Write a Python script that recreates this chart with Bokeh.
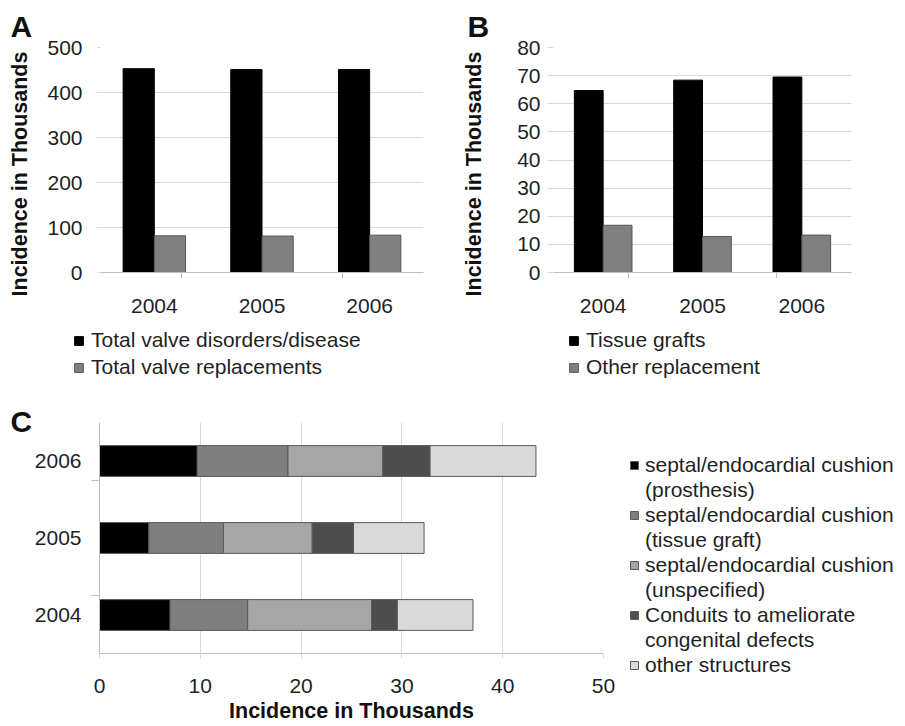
import math
from bokeh.plotting import figure
from bokeh.models import (Range1d, FactorRange, CategoricalAxis, FixedTicker,
                          Legend, LegendItem, Label, ColumnDataSource)
from bokeh.layouts import column, row
from bokeh.transform import dodge
from bokeh.embed import file_html
from bokeh.resources import INLINE

# ---------------- data ----------------
years = ["2004", "2005", "2006"]

a_disorders = [453, 451, 451]
a_replacements = [81.5, 81, 83]
a_legend = ["Total valve disorders/disease", "Total valve replacements"]
a_ticks = [0, 100, 200, 300, 400, 500]

b_tissue = [64.7, 68.4, 69.5]
b_other = [16.8, 12.8, 13.3]
b_legend = ["Tissue grafts", "Other replacement"]
b_ticks = [0, 10, 20, 30, 40, 50, 60, 70, 80]

c_prosthesis = [7.0, 4.9, 9.7]
c_tissue = [7.7, 7.4, 9.0]
c_unspecified = [12.3, 8.8, 9.4]
c_conduits = [2.55, 4.1, 4.7]
c_other = [7.5, 7.0, 10.5]
c_legend = [["septal/endocardial cushion", "(prosthesis)"],
            ["septal/endocardial cushion", "(tissue graft)"],
            ["septal/endocardial cushion", "(unspecified)"],
            ["Conduits to ameliorate", "congenital defects"],
            ["other structures"]]
c_ticks = [0, 10, 20, 30, 40, 50]
c_colors = ["#000000", "#7f7f7f", "#a6a6a6", "#4d4d4d", "#d9d9d9"]
ab_colors = ["#000000", "#808080"]
ab_lines = ["#000000", "#555555"]
y_title = "Incidence in Thousands"

# category boundaries (for boundary tick marks)
bounds = ["b0", "b1", "b2", "b3"]

FONT = "Liberation Sans"
TXT = "#1f1f1f"
DARK = "#111111"
GRID = "#d9d9d9"
AXIS = "#bfbfbf"
SEG_LINE = "#5a5a5a"


def blank(width, height):
    p = figure(width=width, height=height, x_range=Range1d(0, 1), y_range=Range1d(0, 1),
               x_axis_location=None, y_axis_location=None,
               output_backend="svg", toolbar_location=None, frame_align=False,
               min_border_left=0, min_border_right=0, min_border_top=0,
               min_border_bottom=0)
    p.outline_line_color = None
    p.grid.visible = False
    p.background_fill_color = "white"
    p.border_fill_color = "white"
    return p


def text_label(p, x, y, text, size, angle=0.0, align="left"):
    p.add_layout(Label(x=x, y=y, x_units="screen", y_units="screen", text=text,
                       angle=angle, text_font=FONT, text_font_size=size,
                       text_font_style="bold", text_color=DARK,
                       text_align=align, text_baseline="alphabetic"))


def boundary_range():
    return FactorRange(factors=bounds, range_padding=-0.998,
                       range_padding_units="absolute")


def boundary_axis(name, dim, tick_out):
    kw = dict(major_tick_out=tick_out, major_tick_in=0,
              major_label_overrides={b: "" for b in bounds},
              major_label_text_font_size="1px", major_label_standoff=0,
              axis_line_color=AXIS, major_tick_line_color=AXIS)
    if dim == "x":
        return CategoricalAxis(x_range_name=name, **kw)
    return CategoricalAxis(y_range_name=name, **kw)


def bar_panel(v1, v2, ymax, ticks, width, left, frame_w, tick_out, standoff):
    height = 320
    top = 47
    frame_h = 225
    p = figure(width=width, height=height, x_range=FactorRange(*years),
               y_range=Range1d(0, ymax), x_axis_location=None,
               output_backend="svg", toolbar_location=None, frame_align=False,
               min_border_left=left, min_border_right=width - left - frame_w,
               min_border_top=top, min_border_bottom=height - top - frame_h)
    p.outline_line_color = None
    p.background_fill_color = "white"
    p.border_fill_color = "white"
    p.xgrid.visible = False
    p.yaxis.ticker = FixedTicker(ticks=ticks)
    p.ygrid.ticker = FixedTicker(ticks=ticks)
    p.ygrid.grid_line_color = GRID
    p.yaxis.axis_line_color = None
    p.yaxis.major_tick_out = tick_out
    p.yaxis.major_tick_in = 0
    p.yaxis.minor_tick_line_color = None
    p.yaxis.major_tick_line_color = GRID
    p.yaxis.major_label_standoff = standoff
    p.yaxis.major_label_text_font = FONT
    p.yaxis.major_label_text_font_size = "21px"
    p.yaxis.major_label_text_color = TXT

    p.extra_x_ranges = {"bnd": boundary_range()}
    p.add_layout(boundary_axis("bnd", "x", 5), "below")
    cax = CategoricalAxis(axis_line_color=None, major_tick_line_color=None,
                          major_label_standoff=11, major_label_text_font=FONT,
                          major_label_text_font_size="21px", major_label_text_color=TXT)
    p.add_layout(cax, "below")

    src = ColumnDataSource(dict(year=years, v1=v1, v2=v2))
    p.vbar(x=dodge("year", -0.145, range=p.x_range), top="v1", width=0.29,
           source=src, fill_color=ab_colors[0], line_color=ab_lines[0])
    p.vbar(x=dodge("year", 0.145, range=p.x_range), top="v2", width=0.29,
           source=src, fill_color=ab_colors[1], line_color=ab_lines[1])
    return p


def legend_fig(width, height, labels, series, fills, lines, loc, glyph, standoff, lh, sp):
    """Legend-only figure; swatch renderers are hidden copies of the series."""
    p = blank(width, height)
    items = []
    for lab, vals, f, l in zip(labels, series, fills, lines):
        if f is None:
            r = p.vbar(x=[], top=[], width=0.1, fill_alpha=0, line_alpha=0)
        else:
            r = p.vbar(x=list(range(len(vals))), top=vals, width=0.1,
                       fill_color=f, line_color=l, visible=False)
        items.append(LegendItem(label=lab, renderers=[r]))
    leg = Legend(items=items, location=loc, orientation="vertical",
                 glyph_width=glyph, glyph_height=glyph, label_standoff=standoff,
                 label_height=lh, spacing=sp, padding=0, margin=0,
                 border_line_color=None, background_fill_alpha=0,
                 label_text_font=FONT, label_text_font_size="21px",
                 label_text_color=TXT)
    p.add_layout(leg, "center")
    return p


# ---------------- top row ----------------
stripA = blank(40, 320)
text_label(stripA, 10, 294, "A", "30px")
text_label(stripA, 19, 146.5, y_title, "21.5px", angle=math.pi / 2, align="center")
pA = bar_panel(a_disorders, a_replacements, 500, a_ticks,
               width=400, left=60, frame_w=323, tick_out=3, standoff=15)

stripB = blank(50, 320)
text_label(stripB, 27, 294, "B", "30px")
text_label(stripB, 33, 146.5, y_title, "21.5px", angle=math.pi / 2, align="center")
pB = bar_panel(b_tissue, b_other, 80, b_ticks,
               width=415, left=63, frame_w=298, tick_out=6, standoff=7)

legA = legend_fig(440, 75, a_legend, [a_disorders, a_replacements], ab_colors, ab_lines,
                  (73, 16), 11, 7, 24, 3)
legB = legend_fig(465, 75, b_legend, [b_tissue, b_other], ab_colors, ab_lines,
                  (128, 16), 11, 7, 24, 3)

# ---------------- panel C ----------------
c_height = 331
c_top = 27
c_frame_h = 231
c_width = 589
c_left = 68
pC = figure(width=c_width, height=c_height, y_range=FactorRange(*years),
            x_range=Range1d(0, 50), y_axis_location=None,
            output_backend="svg", toolbar_location=None, frame_align=False,
            min_border_left=c_left, min_border_right=c_width - c_left - 504,
            min_border_top=c_top, min_border_bottom=c_height - c_top - c_frame_h)
pC.outline_line_color = None
pC.background_fill_color = "white"
pC.border_fill_color = "white"
pC.ygrid.visible = False
pC.xaxis.ticker = FixedTicker(ticks=c_ticks)
pC.xgrid.ticker = FixedTicker(ticks=c_ticks)
pC.xgrid.grid_line_color = GRID
pC.xaxis.axis_line_color = AXIS
pC.xaxis.major_tick_out = 5
pC.xaxis.major_tick_in = 0
pC.xaxis.major_tick_line_color = GRID
pC.xaxis.minor_tick_line_color = None
pC.xaxis.major_label_standoff = 20
pC.xaxis.major_label_text_font = FONT
pC.xaxis.major_label_text_font_size = "21px"
pC.xaxis.major_label_text_color = TXT
pC.xaxis.axis_label = y_title
pC.xaxis.axis_label_standoff = 3
pC.xaxis.axis_label_text_font = FONT
pC.xaxis.axis_label_text_font_size = "21.5px"
pC.xaxis.axis_label_text_font_style = "bold"
pC.xaxis.axis_label_text_color = DARK

pC.extra_y_ranges = {"bnd": boundary_range()}
pC.add_layout(boundary_axis("bnd", "y", 7), "left")
cay = CategoricalAxis(axis_line_color=None, major_tick_line_color=None,
                      major_label_standoff=1, major_label_text_font=FONT,
                      major_label_text_font_size="21px", major_label_text_color=TXT)
pC.add_layout(cay, "left")

csrc = ColumnDataSource(dict(year=years, s1=c_prosthesis, s2=c_tissue,
                             s3=c_unspecified, s4=c_conduits, s5=c_other))
pC.hbar_stack(["s1", "s2", "s3", "s4", "s5"], y="year", height=0.4,
              source=csrc, fill_color=c_colors, line_color=SEG_LINE, line_width=1)

stripC = blank(31, 331)
text_label(stripC, 10, 305, "C", "30px")

c_series = [c_prosthesis, c_tissue, c_unspecified, c_conduits, c_other]
c_lab, c_vals, c_fill, c_line = [], [], [], []
for col, lines, vals in zip(c_colors, c_legend, c_series):
    c_lab.append(lines[0])
    c_vals.append(vals)
    c_fill.append(col)
    c_line.append(SEG_LINE)
    for extra in lines[1:]:
        c_lab.append(extra)
        c_vals.append([])
        c_fill.append(None)
        c_line.append(None)
legC = legend_fig(905 - 31 - c_width, 331, c_lab, c_vals, c_fill, c_line,
                  (9, 49), 10, 6, 24, 1)

layout = column(row(stripA, pA, stripB, pB, spacing=0),
                row(legA, legB, spacing=0),
                row(stripC, pC, legC, spacing=0), spacing=0)
open("out.html", "w").write(file_html(layout, INLINE))
